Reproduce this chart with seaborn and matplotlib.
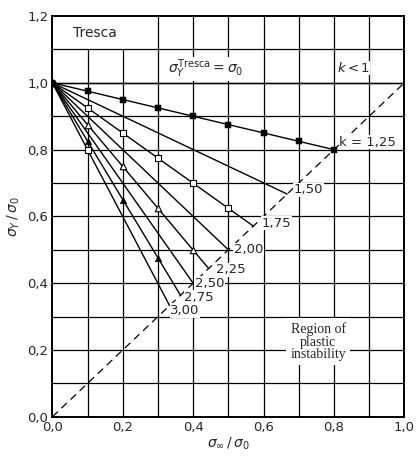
import numpy as np
import pandas as pd
import seaborn as sns
import matplotlib.pyplot as plt

# k values and where each line meets the diagonal
k_labels = ['k = 1,25', '1,50', '1,75', '2,00', '2,25', '2,50', '2,75', '3,00']
end_x = [0.80, 0.667, 0.571, 0.50, 0.444, 0.40, 0.364, 0.333]
end_y = [0.80, 0.667, 0.571, 0.50, 0.444, 0.40, 0.364, 0.333]
start_x = 0.0
start_y = 1.0

# marked points
k125_x = [0.1, 0.2, 0.3, 0.4, 0.5, 0.6, 0.7, 0.8]
k125_y = [0.975, 0.95, 0.925, 0.90, 0.875, 0.85, 0.825, 0.80]
k175_x = [0.1, 0.2, 0.3, 0.4, 0.5]
k175_y = [0.925, 0.85, 0.775, 0.70, 0.625]
k225_x = [0.1, 0.2, 0.3, 0.4]
k225_y = [0.875, 0.75, 0.625, 0.50]
k275_x = [0.1, 0.2, 0.3]
k275_y = [0.825, 0.65, 0.475]
k300_x = [0.1]
k300_y = [0.80]

# label positions (left edge, centre) for the k tags
lab_x = [0.815, 0.685, 0.595, 0.515, 0.465, 0.405, 0.375, 0.335]
lab_y = [0.822, 0.680, 0.580, 0.500, 0.440, 0.400, 0.357, 0.318]

sns.set_style("white")
plt.rcParams['font.family'] = ['DejaVu Sans']

fig = plt.figure(figsize=(4.19, 4.59), dpi=100)
ax = fig.add_axes([0.125, 0.092, 0.84, 0.873])

# grid every 0.1 (the Tresca box interrupts the first two verticals)
for g in np.arange(0.1, 1.0, 0.1):
    top = 1.1 / 1.2 if g < 0.25 else 1.0
    ax.axvline(g, ymax=top, color='black', lw=0.9, zorder=0)
for g in np.arange(0.1, 1.2, 0.1):
    ax.axhline(g, color='black', lw=0.9, zorder=0)

# k<1 line and stability diagonal
ax.axhline(1.0, color='black', lw=1.0, zorder=1)
diag = pd.DataFrame({'x': [0.0, 1.0], 'y': [0.0, 1.0]})
sns.lineplot(data=diag, x='x', y='y', color='black', lw=0.9,
             linestyle=(0, (6, 4)), ax=ax, zorder=2)

# straight k lines
rows = []
for lab, ex, ey in zip(k_labels, end_x, end_y):
    rows.append({'k': lab, 'x': start_x, 'y': start_y})
    rows.append({'k': lab, 'x': ex, 'y': ey})
lines = pd.DataFrame(rows)
sns.lineplot(data=lines, x='x', y='y', units='k', estimator=None,
             color='black', lw=1.0, ax=ax, zorder=3, legend=False)
ax.plot([start_x], [start_y], 'o', color='black', ms=5, zorder=4)

# markers
sns.scatterplot(x=k125_x, y=k125_y, marker='s', color='black', s=18,
                edgecolor='black', ax=ax, zorder=5)
sns.scatterplot(x=k175_x, y=k175_y, marker='s', color='white', s=18,
                edgecolor='black', linewidth=0.8, ax=ax, zorder=5)
sns.scatterplot(x=k225_x, y=k225_y, marker='^', color='white', s=22,
                edgecolor='black', linewidth=0.8, ax=ax, zorder=5)
sns.scatterplot(x=k275_x, y=k275_y, marker='^', color='black', s=22,
                edgecolor='black', ax=ax, zorder=5)
sns.scatterplot(x=k300_x, y=k300_y, marker='s', color='white', s=14,
                edgecolor='black', linewidth=0.8, ax=ax, zorder=4)

box = dict(facecolor='white', edgecolor='none', pad=0.5)
for lab, lx, ly in zip(k_labels, lab_x, lab_y):
    ax.text(lx, ly, lab, fontsize=9.5, va='center', ha='left',
            bbox=box, zorder=6)

ax.text(0.06, 1.15, 'Tresca', fontsize=10, va='center', ha='left', zorder=6)
ax.text(0.435, 1.042, r'$\sigma_Y^{\mathrm{Tresca}} = \sigma_0$', fontsize=10,
        va='center', ha='center', bbox=box, zorder=6)
ax.text(0.855, 1.045, r'$k < 1$', fontsize=9.5, va='center', ha='center',
        bbox=dict(facecolor='white', edgecolor='none', pad=0.2), zorder=6)
ax.text(0.755, 0.225, 'Region of\nplastic\ninstability', fontsize=10,
        family='Liberation Serif', ha='center', va='center',
        linespacing=0.95, bbox=dict(facecolor='white', edgecolor='none', pad=3),
        zorder=6)

ax.set_xlim(0, 1.0)
ax.set_ylim(0, 1.2)
ax.set_xticks([0, 0.2, 0.4, 0.6, 0.8, 1.0])
ax.set_xticklabels(['0,0', '0,2', '0,4', '0,6', '0,8', '1,0'])
ax.set_yticks([0, 0.2, 0.4, 0.6, 0.8, 1.0, 1.2])
ax.set_yticklabels(['0,0', '0,2', '0,4', '0,6', '0,8', '1,0', '1,2'])
ax.tick_params(labelsize=9.5, length=0, pad=3)
ax.set_xlabel(r'$\sigma_\infty\,/\,\sigma_0$', fontsize=10, labelpad=1)
ax.set_ylabel(r'$\sigma_Y\,/\,\sigma_0$', fontsize=10, labelpad=4)
for s in ax.spines.values():
    s.set_color('black')
    s.set_linewidth(1.4)
    s.set_zorder(7)

fig.savefig('out.png', dpi=100, facecolor='white')
